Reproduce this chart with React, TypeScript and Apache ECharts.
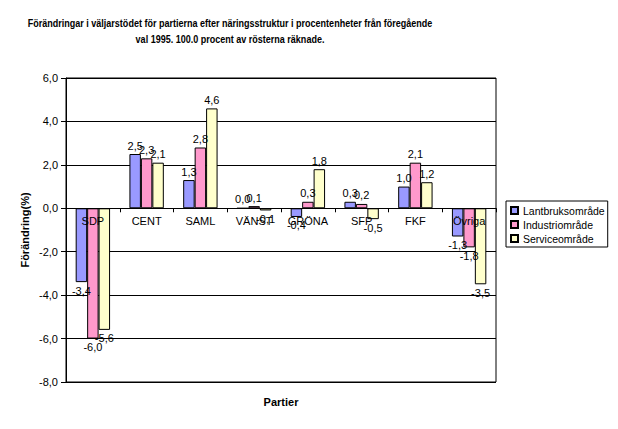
import React, { useEffect, useRef } from "react";
import * as echarts from "echarts";

const categories = ["SDP", "CENT", "SAML", "VÄNST", "GRÖNA", "SFP", "FKF", "Övriga"];
const seriesNames = ["Lantbruksområde", "Industriområde", "Serviceområde"];
const lantbruk = [-3.4, 2.5, 1.3, 0.0, -0.4, 0.3, 1.0, -1.3];
const industri = [-6.0, 2.3, 2.8, 0.1, 0.3, 0.2, 2.1, -1.8];
const service = [-5.6, 2.1, 4.6, -0.1, 1.8, -0.5, 1.2, -3.5];
const colors = ["#9999FF", "#FF99CC", "#FFFFCC"];
const yMin = -8;
const yMax = 6;
const yStep = 2;
const titleLines = [
  "Förändringar i väljarstödet för partierna efter näringsstruktur i procentenheter från föregående",
  "val 1995. 100.0 procent av rösterna räknade.",
];
const yAxisName = "Förändring(%)";
const xAxisName = "Partier";

const FONT = "'Liberation Sans', Arial, sans-serif";
const fmt = (v: number) => v.toFixed(1).replace(".", ",");

const W = 618;
const H = 429;
const GRID = { left: 66, right: 122, top: 78, bottom: 47 };

export default function App() {
  const ref = useRef<HTMLDivElement>(null);
  useEffect(() => {
    if (!ref.current) return;
    const chart = echarts.init(ref.current, null, { renderer: "svg" });
    const allSeries = [lantbruk, industri, service];
    const gridH = H - GRID.top - GRID.bottom;
    const zeroOffset = -gridH * (0 - yMin) / (yMax - yMin);
    chart.setOption({
      animation: false,
      backgroundColor: "#fff",
      textStyle: { fontFamily: FONT },
      graphic: [
        {
          type: "text",
          x: 230,
          y: 15,
          scaleX: 0.82,
          style: {
            text: titleLines.join("\n"),
            textAlign: "center",
            fontFamily: FONT,
            fontWeight: "bold",
            fontSize: 11,
            lineHeight: 16,
            fill: "#000",
          },
        },
        {
          type: "text",
          x: 281,
          y: 396,
          style: {
            text: xAxisName,
            textAlign: "center",
            fontFamily: FONT,
            fontWeight: "bold",
            fontSize: 11,
            fill: "#000",
          },
        },
      ],
      legend: {
        orient: "vertical",
        left: 506,
        top: 201,
        padding: [4, 3, 3, 4],
        itemGap: 3,
        itemWidth: 7,
        itemHeight: 7,
        borderColor: "#000",
        borderWidth: 1,
        icon: "rect",
        data: seriesNames,
        textStyle: { fontSize: 10.5, color: "#000", fontFamily: FONT },
      },
      grid: {
        ...GRID,
        show: true,
        borderColor: "#000",
        borderWidth: 1,
        outerBoundsMode: "none",
        containLabel: false,
      },
      xAxis: {
        type: "category",
        data: categories,
        z: 10,
        position: "bottom",
        offset: zeroOffset,
        axisLine: { onZero: false, lineStyle: { color: "#000", width: 1 } },
        axisTick: { show: true, alignWithLabel: false, length: 4, lineStyle: { color: "#000" } },
        axisLabel: { color: "#000", fontSize: 11, margin: 7, interval: 0 },
      },
      yAxis: {
        type: "value",
        min: yMin,
        max: yMax,
        interval: yStep,
        name: yAxisName,
        nameLocation: "middle",
        nameGap: 36,
        nameMoveOverlap: false,
        nameTextStyle: { fontWeight: "bold", fontSize: 11, color: "#000" },
        axisLine: { show: true, lineStyle: { color: "#000" } },
        axisTick: { show: true, length: 5, lineStyle: { color: "#000" } },
        axisLabel: { color: "#000", fontSize: 11, margin: 8, formatter: (v: number) => fmt(v) },
        splitLine: { show: true, lineStyle: { color: "#000", width: 1 } },
      },
      series: allSeries.map((vals, i) => ({
        name: seriesNames[i],
        type: "bar",
        barGap: "0%",
        barCategoryGap: "36%",
        itemStyle: { color: colors[i], borderColor: "#000", borderWidth: 1 },
        data: vals.map((v) => ({
          value: v,
          label: { position: v < 0 ? "bottom" : "top" },
        })),
        label: {
          show: true,
          distance: 3,
          color: "#000",
          fontSize: 11,
          formatter: (p: any) => fmt(p.value),
        },
      })),
    });
    return () => chart.dispose();
  }, []);
  return <div ref={ref} style={{ position: "fixed", left: 0, top: 0, width: W, height: H }} />;
}
